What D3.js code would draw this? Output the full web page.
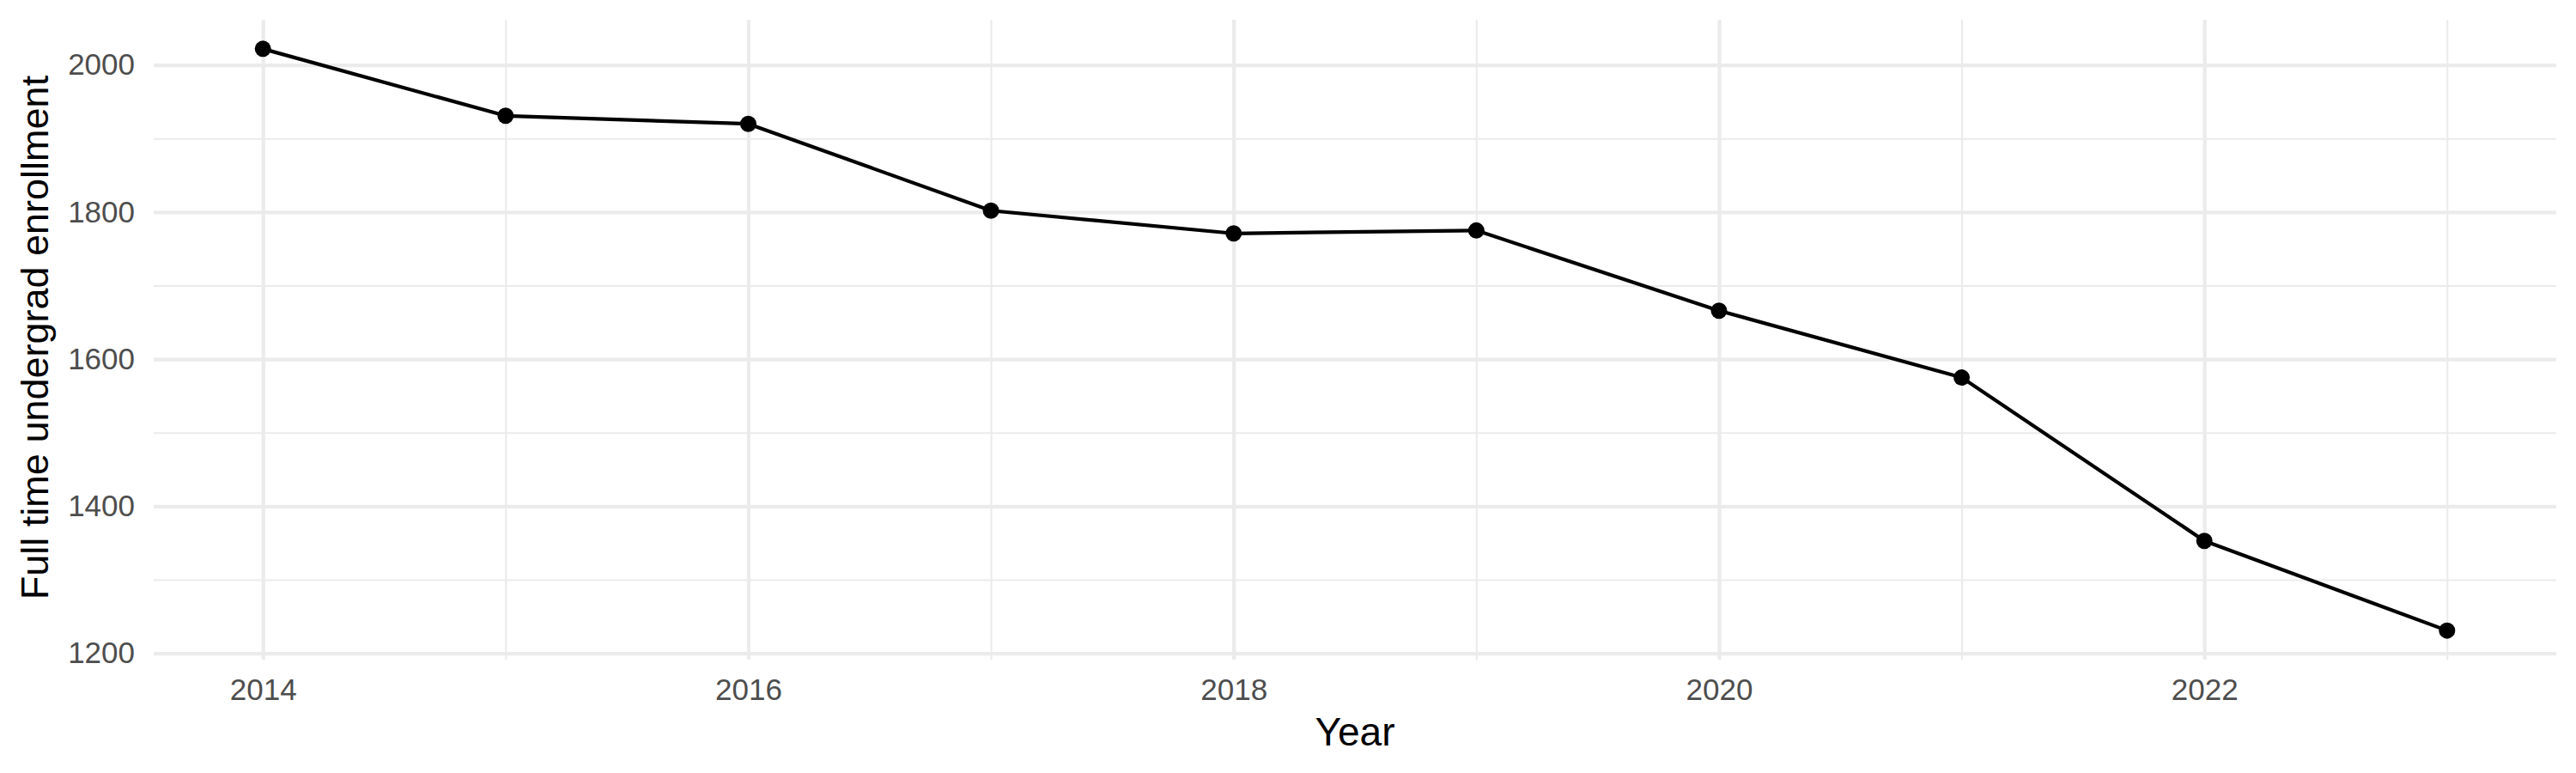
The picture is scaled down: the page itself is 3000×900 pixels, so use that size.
<!DOCTYPE html>
<html>
<head>
<meta charset="utf-8">
<script src="https://cdn.jsdelivr.net/npm/d3@7"></script>
<style>
  body { margin: 0; background: #fff; }
  text { font-family: "Liberation Sans", Arial, sans-serif; }
</style>
</head>
<body>
<div id="chart"></div>
<script>
// data
const years = [2014, 2015, 2016, 2017, 2018, 2019, 2020, 2021, 2022, 2023]
const enrollment = [2022, 1931, 1920, 1802, 1771, 1775, 1666, 1575, 1353, 1231]
const yMajorTicks = [1200, 1400, 1600, 1800, 2000]
const yMinorTicks = [1300, 1500, 1700, 1900]
const xMajorTicks = [2014, 2016, 2018, 2020, 2022]
const xMinorTicks = [2015, 2017, 2019, 2021, 2023]

const data = years.map((d, i) => ({ year: d, value: enrollment[i] }))

var margin = { top: 23, right: 23, bottom: 132, left: 179 },
    width = 3000 - margin.left - margin.right,
    height = 900 - margin.top - margin.bottom;

var svg = d3.select("#chart")
    .append("svg")
    .attr("width", 3000)
    .attr("height", 900)

var g = svg.append("g")
    .attr("transform", "translate(" + margin.left + "," + margin.top + ")");

// ggplot style 5% expansion on both scales
const expand = (ext) => {
    const pad = (ext[1] - ext[0]) * 0.05
    return [ext[0] - pad, ext[1] + pad]
}

var x = d3.scaleLinear()
    .domain(expand(d3.extent(years)))
    .range([0, width])

var y = d3.scaleLinear()
    .domain(expand(d3.extent(enrollment)))
    .range([height, 0])

// grid lines
const grid = (axis, ticks, w) => {
    const gg = g.append("g").call(axis.tickValues(ticks).tickFormat(""))
    gg.select(".domain").remove()
    gg.selectAll("line").attr("stroke", "#EBEBEB").attr("stroke-width", w)
    return gg
}
grid(d3.axisLeft(y).tickSize(-width), yMinorTicks, 2.1)
grid(d3.axisBottom(x).tickSize(height), xMinorTicks, 2.1)
grid(d3.axisLeft(y).tickSize(-width), yMajorTicks, 4.2)
grid(d3.axisBottom(x).tickSize(height), xMajorTicks, 4.2)

// tick labels
var yAxis = g.append("g")
    .call(d3.axisLeft(y).tickValues(yMajorTicks).tickSize(0).tickPadding(22).tickFormat(d3.format("d")))
var xAxis = g.append("g")
    .attr("transform", "translate(0," + height + ")")
    .call(d3.axisBottom(x).tickValues(xMajorTicks).tickSize(0).tickPadding(22).tickFormat(d3.format("d")))

;[xAxis, yAxis].forEach(a => {
    a.select(".domain").remove()
    a.selectAll("text")
        .attr("fill", "#4D4D4D")
        .style("font-size", "35px")
        .style("font-family", "'Liberation Sans', Arial, sans-serif")
})

// line + points
var line = d3.line()
    .x(d => x(d.year))
    .y(d => y(d.value))

g.append("path")
    .datum(data)
    .attr("fill", "none")
    .attr("stroke", "#000")
    .attr("stroke-width", 4.2)
    .attr("stroke-linejoin", "round")
    .attr("d", line)

g.selectAll("circle")
    .data(data)
    .enter()
    .append("circle")
    .attr("cx", d => x(d.year))
    .attr("cy", d => y(d.value))
    .attr("r", 9.5)
    .attr("fill", "#000")

// axis titles
g.append("text")
    .attr("x", width / 2)
    .attr("y", 868 - margin.top)
    .attr("text-anchor", "middle")
    .style("font-size", "46px")
    .attr("fill", "#000")
    .text("Year")

svg.append("text")
    .attr("transform", "translate(56,393) rotate(-90)")
    .attr("text-anchor", "middle")
    .style("font-size", "45px")
    .attr("fill", "#000")
    .text("Full time undergrad enrollment")
</script>
</body>
</html>
